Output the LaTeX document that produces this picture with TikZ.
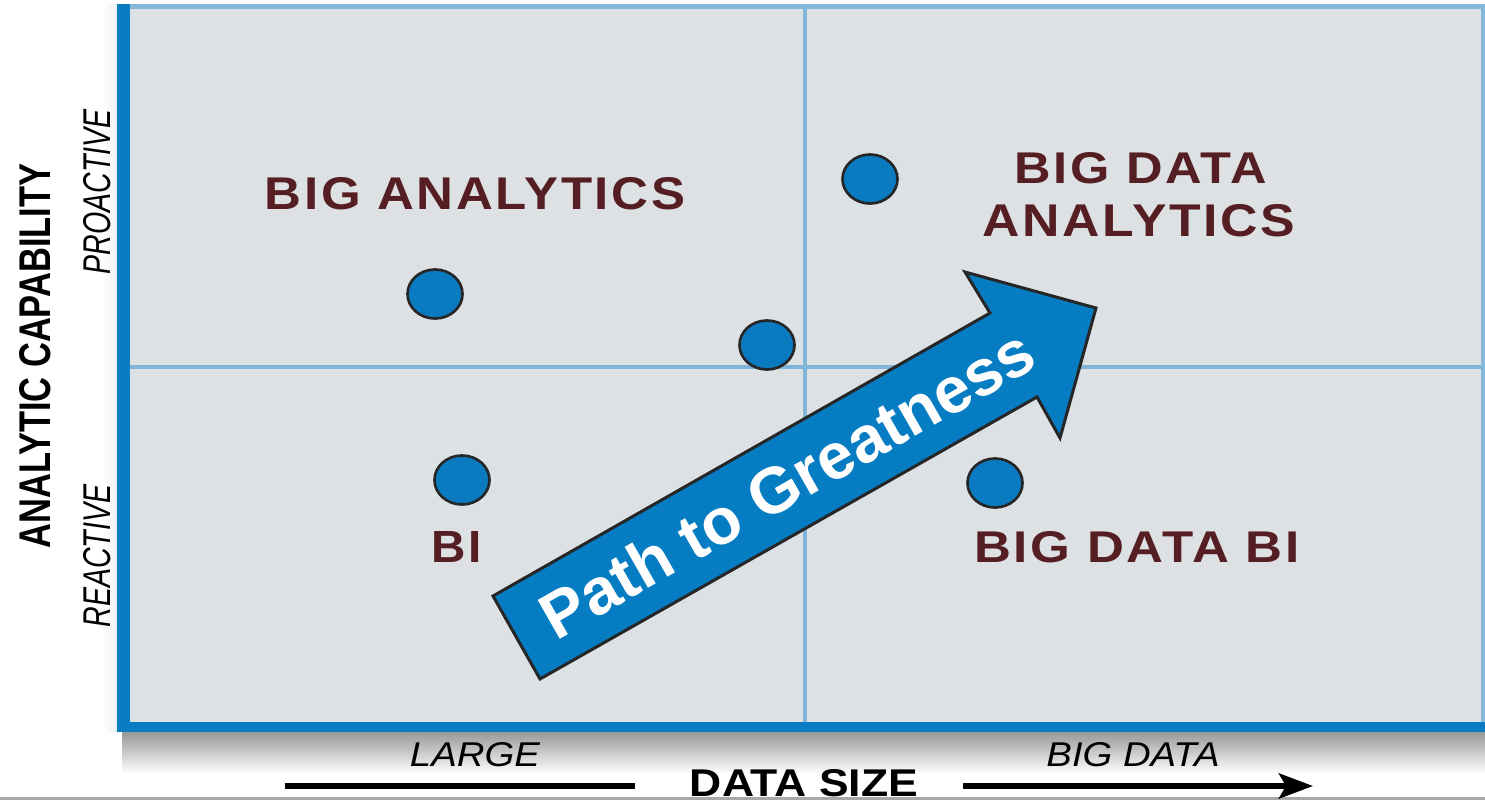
\documentclass[tikz,border=0pt]{standalone}
\usepackage{fontspec}
\setmainfont{Liberation Sans}
\newfontfamily\lblfont[LetterSpace=5]{Liberation Sans}
\usepackage{graphicx}
\usetikzlibrary{shapes.geometric,arrows.meta}
\definecolor{frameblue}{HTML}{0A7CC3}
\definecolor{edgeblue}{HTML}{85B8DB}
\definecolor{divblue}{HTML}{80B5D9}
\definecolor{panelgray}{HTML}{DEE1E4}
\definecolor{dotblue}{HTML}{0A7BC1}
\definecolor{arrowblue}{HTML}{067CC2}
\definecolor{labelred}{HTML}{541E22}
\definecolor{rulegray}{HTML}{A8A8A8}
\newcommand{\fitlabel}[3]{\resizebox{#1}{#2}{#3}}
\tikzset{
  quadlabel/.style={inner sep=0, text=labelred, font=\lblfont\bfseries},
  axistext/.style={inner sep=0, text=black},
  dot/.style={ellipse, draw=black!85, line width=0.75pt, fill=dotblue,
    minimum width=0.55cm, minimum height=0.49cm, inner sep=0},
  axisline/.style={line width=1.7pt, black},
  divider/.style={draw=divblue, line width=1.1pt},
}
\begin{document}
\begin{tikzpicture}[x=0.01cm, y=-0.01cm]
\useasboundingbox (0,0) rectangle (1485,800);
\fill[white] (0,0) rectangle (1485,800);
% shadows
\shade[top color=black!40, bottom color=white] (122,732) rectangle (1485,774);
\shade[left color=white, right color=black!6] (102,4) rectangle (117,732);
% frame
\fill[edgeblue] (117,4) rectangle (1485,732);
\fill[panelgray] (130,9) rectangle (1481,722);
\fill[frameblue] (117,4) rectangle (130,732);
\fill[frameblue] (117,722) rectangle (1485,732);
% dividers
\draw[divider] (805,9) -- (805,722);
\draw[divider] (130,367) -- (1481,367);
% bottom rule
\fill[rulegray] (0,797) rectangle (1485,800);
% dots
\node[dot] (c1) at (870,179) {};
\node[dot] (c2) at (435,294) {};
\node[dot] (c3) at (767,345) {};
\node[dot] (c4) at (462,480) {};
\node[dot] (c5) at (995,483) {};
% quadrant labels
\node[quadlabel] (bigan) at (475,194) {\fitlabel{4.2cm}{0.32cm}{BIG ANALYTICS}};
\node[quadlabel] (bdata) at (1141,168) {\fitlabel{2.52cm}{0.31cm}{BIG DATA}};
\node[quadlabel] (bdan) at (1139,221) {\fitlabel{3.12cm}{0.32cm}{ANALYTICS}};
\node[quadlabel] (bi) at (457,547) {\fitlabel{0.5cm}{0.31cm}{BI}};
\node[quadlabel] (bdbi) at (1137,547) {\fitlabel{3.25cm}{0.31cm}{BIG DATA BI}};
% path to greatness arrow
\draw[fill=arrowblue, draw=black!85, line width=0.85pt, line join=miter]
  (493,596) -- (990,313) -- (965,272) -- (1096,308) -- (1060,438)
  -- (1037,397) -- (540,679) -- cycle;
\node[rotate=29.7, text=white, inner sep=0,
  font=\bfseries\fontsize{18.5}{20}\selectfont] (pg) at (787,483) {Path to Greatness};
% axis texts
\node[axistext, rotate=90] (acap) at (35,356) {\fitlabel{3.85cm}{0.31cm}{\bfseries ANALYTIC CAPABILITY}};
\node[axistext, rotate=90] (pro) at (97,192) {\fitlabel{1.65cm}{0.27cm}{\itshape PROACTIVE}};
\node[axistext, rotate=90] (rea) at (97,556) {\fitlabel{1.43cm}{0.27cm}{\itshape REACTIVE}};
\node[axistext] (large) at (475,755) {\fitlabel{1.3cm}{0.24cm}{\itshape LARGE}};
\node[axistext] (bigd) at (1133,755) {\fitlabel{1.73cm}{0.24cm}{\itshape BIG DATA}};
\node[axistext] (dsize) at (804,783) {\fitlabel{2.28cm}{0.27cm}{\bfseries DATA SIZE}};
% axis lines
\coordinate (la) at (285,786);
\coordinate (lb) at (635,786);
\coordinate (ra) at (963,786);
\coordinate (rb) at (1313,786);
\draw[axisline] (la) -- (lb);
\draw[axisline, -{Stealth[length=0.34cm, width=0.25cm, inset=0.07cm]}] (ra) -- (rb);
\end{tikzpicture}
\end{document}
